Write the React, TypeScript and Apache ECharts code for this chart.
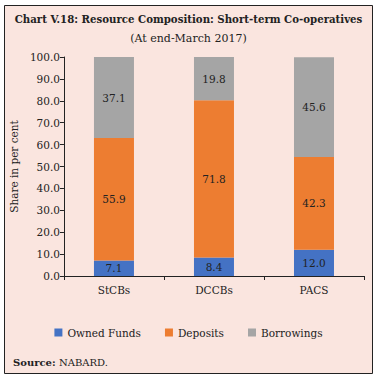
import React, { useEffect, useRef } from "react";
import * as echarts from "echarts";

const categories = ["StCBs", "DCCBs", "PACS"];
const ownedFunds = [7.1, 8.4, 12.0];
const deposits = [55.9, 71.8, 42.3];
const borrowings = [37.1, 19.8, 45.6];
const seriesNames = ["Owned Funds", "Deposits", "Borrowings"];
const colors = ["#4472C4", "#ED7D31", "#A5A5A5"];

const FONT = "DejaVu Serif";

export default function App() {
  const ref = useRef<HTMLDivElement>(null);
  useEffect(() => {
    if (!ref.current) return;
    const chart = echarts.init(ref.current, undefined, { renderer: "svg" });
    const datasets = [ownedFunds, deposits, borrowings];
    chart.setOption({
      animation: false,
      backgroundColor: "#ffffff",
      textStyle: { fontFamily: FONT },
      graphic: [
        {
          type: "rect",
          z: -10,
          shape: { x: 4.5, y: 5.5, width: 368, height: 368 },
          style: { fill: "#FAE5DF", stroke: "#222", lineWidth: 1 },
        },
        {
          type: "text",
          left: "center",
          top: 14,
          style: {
            text: "Chart V.18: Resource Composition: Short-term Co-operatives",
            font: `bold 10.2px ${FONT}`,
            fill: "#222",
          },
        },
        {
          type: "text",
          left: "center",
          top: 33,
          style: {
            text: "(At end-March 2017)",
            font: `11px ${FONT}`,
            fill: "#222",
          },
        },
        {
          type: "text",
          left: 13,
          top: 356,
          style: {
            rich: {
              b: { fontFamily: FONT, fontWeight: "bold", fontSize: 10, fill: "#222" },
              n: { fontFamily: FONT, fontSize: 10, fill: "#222" },
            },
            text: "{b|Source:} {n|NABARD.}",
          },
        },
      ],
      legend: {
        bottom: 35,
        left: "center",
        itemWidth: 8,
        itemHeight: 8,
        itemGap: 24,
        icon: "rect",
        textStyle: { fontFamily: FONT, fontSize: 10.5, color: "#222" },
        data: seriesNames,
      },
      grid: { left: 60, right: 13, top: 57, bottom: 102, containLabel: false },
      xAxis: {
        type: "category",
        data: categories,
        axisLine: { lineStyle: { color: "#222" } },
        axisTick: { show: true, length: 4, lineStyle: { color: "#222" } },
        axisLabel: { fontFamily: FONT, fontSize: 10.5, color: "#222", margin: 8 },
      },
      yAxis: {
        type: "value",
        min: 0,
        max: 100,
        interval: 10,
        name: "Share in per cent",
        nameLocation: "middle",
        nameGap: 35,
        nameTextStyle: { fontFamily: FONT, fontSize: 10.5, color: "#222" },
        axisLine: { show: true, lineStyle: { color: "#222" } },
        axisTick: { show: true, length: 4, lineStyle: { color: "#222" } },
        axisLabel: {
          fontFamily: FONT,
          fontSize: 10.5,
          color: "#222",
          margin: 4,
          formatter: (v: number) => v.toFixed(1),
        },
        splitLine: { show: false },
      },
      series: seriesNames.map((name, i) => ({
        name,
        type: "bar",
        stack: "total",
        barWidth: 40,
        itemStyle: { color: colors[i] },
        label: {
          show: true,
          position: "inside",
          fontFamily: FONT,
          fontSize: 10.5,
          color: "#222",
          formatter: (p: any) => Number(p.value).toFixed(1),
        },
        data: datasets[i],
      })),
    });
    return () => chart.dispose();
  }, []);
  return (
    <div
      ref={ref}
      style={{ position: "fixed", left: 0, top: 0, width: 377, height: 378 }}
    />
  );
}
